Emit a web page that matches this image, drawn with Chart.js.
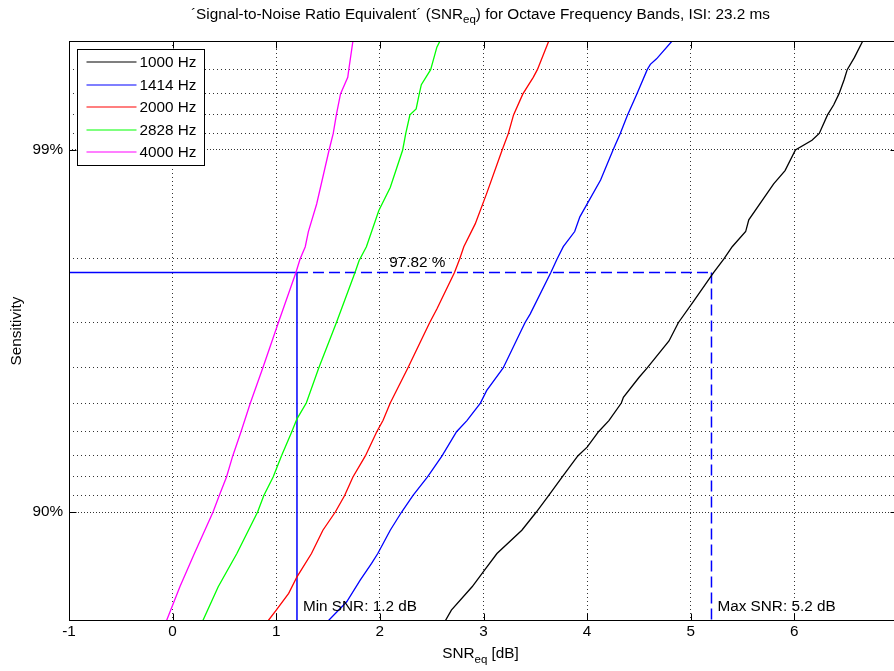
<!DOCTYPE html>
<html><head><meta charset="utf-8">
<script src="https://cdn.jsdelivr.net/npm/chart.js@4"></script>
<style>html,body{margin:0;padding:0;background:#fff;overflow:hidden}canvas{display:block}</style>
</head><body>
<canvas id="c" width="910" height="671"></canvas>
<script>
const FONT='"Liberation Sans", Arial, Helvetica, sans-serif';
const FS=15.3, FS_SUB=11.5;

// data: SNReq [dB] vs sensitivity [%]
const seriesNames=['1000 Hz','1414 Hz','2000 Hz','2828 Hz','4000 Hz'];
const seriesColors=['#000000','#0000ff','#ff0000','#00ff00','#ff00ff'];
const snr1000=[2.63,2.69,2.89,3.01,3.13,3.37,3.51,3.63,3.76,3.91,4.00,4.11,4.21,4.33,4.35,4.50,4.58,4.79,4.88,5.03,5.22,5.32,5.40,5.53,5.56,5.80,5.91,6.01,6.17,6.24,6.32,6.38,6.43,6.48,6.51,6.58,6.66];
const sens1000=[80.0,81.34,83.91,85.53,86.98,88.77,90.0,91.0,92.0,93.0,93.38,94.0,94.41,95.0,95.18,95.75,96.0,96.63,97.0,97.39,97.82,98.0,98.15,98.32,98.44,98.76,98.86,99.0,99.06,99.1,99.2,99.25,99.3,99.36,99.4,99.445,99.5];
const snr1414=[1.50,1.68,1.81,1.92,1.98,2.10,2.21,2.32,2.46,2.60,2.74,2.84,2.97,3.03,3.19,3.40,3.45,3.65,3.71,3.77,3.88,3.93,4.13,4.25,4.32,4.39,4.48,4.58,4.61,4.67,4.82];
const sens1414=[80.0,82.30,84.58,86.13,86.98,88.77,90.0,91.0,92.0,93.0,94.0,94.41,95.0,95.38,96.0,97.0,97.16,97.82,98.0,98.15,98.32,98.47,98.79,99.0,99.1,99.2,99.3,99.4,99.42,99.44,99.5];
const snr2000=[0.92,1.00,1.12,1.20,1.34,1.45,1.57,1.66,1.74,1.86,1.97,2.03,2.10,2.27,2.38,2.48,2.55,2.72,2.77,2.81,2.92,3.03,3.18,3.24,3.29,3.38,3.48,3.52,3.63];
const sens2000=[80.0,81.34,83.22,84.90,86.98,88.77,90.0,91.0,92.0,93.0,94.0,94.41,95.0,96.0,96.56,97.0,97.25,97.82,98.0,98.15,98.40,98.68,99.0,99.1,99.2,99.3,99.37,99.4,99.5];
const snr2828=[0.29,0.44,0.62,0.82,0.88,0.97,1.05,1.15,1.20,1.29,1.41,1.58,1.76,1.80,1.87,1.99,2.10,2.22,2.25,2.29,2.35,2.38,2.40,2.49,2.55,2.58];
const sens2828=[80.0,83.91,86.98,90.0,91.0,92.0,93.0,94.0,94.47,95.0,96.0,97.0,97.82,97.98,98.15,98.53,98.73,99.0,99.1,99.2,99.23,99.3,99.34,99.4,99.48,99.5];
const snr4000=[-0.06,0.07,0.21,0.39,0.45,0.52,0.58,0.66,0.75,0.87,1.02,1.19,1.23,1.28,1.31,1.39,1.51,1.55,1.58,1.62,1.69,1.70,1.74];
const sens4000=[80.0,83.91,86.98,90.0,91.0,92.0,93.0,94.0,95.0,96.0,97.0,97.82,98.0,98.15,98.32,98.59,99.0,99.1,99.2,99.3,99.37,99.4,99.5];
const snrSeries=[snr1000,snr1414,snr2000,snr2828,snr4000];
const sensSeries=[sens1000,sens1414,sens2000,sens2828,sens4000];

// axes
const xTicks=[-1,0,1,2,3,4,5,6,7];
const yGrid=[80,90,91,92,93,94,95,96,97,98,99,99.1,99.2,99.3,99.4,99.5];
const yMajor=[90,99];
const refSens=97.82, minSnr=1.2, maxSnr=5.2;

const toMiss=p=>1-p/100;   // y axis is log(1 - sensitivity), reversed

const datasets=snrSeries.map((xs,i)=>({
  label:seriesNames[i], data:xs.map((v,j)=>({x:v,y:toMiss(sensSeries[i][j])})),
  borderColor:seriesColors[i], borderWidth:1.3, pointRadius:0, tension:0, fill:false
}));
const refLine=(pts,dash)=>({data:pts.map(([a,b])=>({x:a,y:toMiss(b)})),borderColor:'#0000ff',borderWidth:1.5,borderDash:dash,pointRadius:0,fill:false});
datasets.push(
  refLine([[-1,refSens],[minSnr,refSens]],[]),
  refLine([[minSnr,refSens],[maxSnr,refSens]],[11,5]),
  refLine([[minSnr,refSens],[minSnr,80]],[]),
  refLine([[maxSnr,refSens],[maxSnr,80]],[11,5])
);

function subText(ctx,parts,cx,base){
  let w=0; parts.forEach(([t,s])=>{ctx.font=(s?FS_SUB:FS)+'px '+FONT; w+=ctx.measureText(t).width;});
  let x=cx-w/2; ctx.textAlign='left'; ctx.textBaseline='alphabetic';
  parts.forEach(([t,s])=>{ctx.font=(s?FS_SUB:FS)+'px '+FONT; ctx.fillText(t,x,s?base+4.5:base); x+=ctx.measureText(t).width;});
}

const decor={id:'decor',
  afterDatasetsDraw(chart){
    const {ctx,chartArea:a,scales:{x,y}}=chart;
    const L=Math.round(a.left)+.5,R=Math.round(a.right)-.5,T=Math.round(a.top)+.5,B=Math.round(a.bottom)-.5;
    ctx.save(); ctx.strokeStyle='#000'; ctx.lineWidth=1; ctx.setLineDash([]);
    ctx.strokeRect(L,T,R-L,B-T);
    ctx.beginPath();
    xTicks.forEach(v=>{const px=Math.round(x.getPixelForValue(v))+.5; ctx.moveTo(px,B);ctx.lineTo(px,B-7);ctx.moveTo(px,T);ctx.lineTo(px,T+7);});
    yMajor.forEach(p=>{const py=Math.round(y.getPixelForValue(toMiss(p)))+.5; ctx.moveTo(L,py);ctx.lineTo(L+7,py);ctx.moveTo(R,py);ctx.lineTo(R-7,py);});
    ctx.stroke();
    // legend box
    const lx=Math.round(a.left)+8.5, ly=Math.round(a.top)+8.5;
    ctx.fillStyle='#fff'; ctx.fillRect(lx,ly,127,116); ctx.strokeRect(lx,ly,127,116);
    ctx.font=FS+'px '+FONT; ctx.textAlign='left'; ctx.textBaseline='middle';
    seriesNames.forEach((n,i)=>{
      const yy=Math.round(ly+12.5+i*22.5);
      ctx.strokeStyle=seriesColors[i]; ctx.lineWidth=1.2;
      ctx.beginPath(); ctx.moveTo(lx+9,yy); ctx.lineTo(lx+59,yy); ctx.stroke();
      ctx.fillStyle='#000'; ctx.fillText(n,lx+62,yy+1);
    });
    // annotations
    ctx.fillStyle='#000'; ctx.textBaseline='alphabetic';
    ctx.fillText(refSens.toFixed(2)+' %',x.getPixelForValue(2.09),y.getPixelForValue(toMiss(refSens))-5.5);
    ctx.fillText('Min SNR: '+minSnr.toFixed(1)+' dB',x.getPixelForValue(minSnr)+6,a.bottom-10.5);
    ctx.fillText('Max SNR: '+maxSnr.toFixed(1)+' dB',x.getPixelForValue(maxSnr)+6,a.bottom-10.5);
    // title and axis labels
    const cx=(a.left+a.right)/2-3;
    subText(ctx,[['\u00B4Signal-to-Noise Ratio Equivalent\u00B4 (SNR',0],['eq',1],[') for Octave Frequency Bands, ISI: 23.2 ms',0]],cx,18.5);
    subText(ctx,[['SNR',0],['eq',1],[' [dB]',0]],cx,658);
    ctx.translate(17,(a.top+a.bottom)/2); ctx.rotate(-Math.PI/2);
    ctx.font=FS+'px '+FONT; ctx.textAlign='center'; ctx.textBaseline='middle';
    ctx.fillText('Sensitivity',0,0);
    ctx.restore();
  }
};

new Chart(document.getElementById('c'),{
  type:'line',
  data:{datasets},
  options:{
    responsive:false, animation:false, devicePixelRatio:1,
    layout:{padding:{top:41,right:12,bottom:0,left:0}},
    plugins:{legend:{display:false},tooltip:{enabled:false},title:{display:false}},
    scales:{
      x:{type:'linear',min:-1,max:7,
        afterBuildTicks:s=>{s.ticks=xTicks.map(v=>({value:v}));},
        afterFit:s=>{s.height=50;},
        ticks:{color:'#000',font:{family:FONT,size:FS},padding:2,autoSkip:false,maxRotation:0,
          callback:v=>v===7?'':String(v)},
        grid:{drawTicks:false,color:c=>(c.index===0||c.index===xTicks.length-1)?'rgba(0,0,0,0)':'rgba(0,0,0,0.8)',lineWidth:1},
        border:{display:false,dash:[1,3]}},
      y:{type:'logarithmic',reverse:true,min:toMiss(99.5),max:toMiss(80),
        afterBuildTicks:s=>{s.ticks=yGrid.map(p=>({value:toMiss(p)}));},
        afterFit:s=>{s.width=69;},
        ticks:{color:'#000',font:{family:FONT,size:FS},padding:6,autoSkip:false,
          callback:(v,i)=>yMajor.includes(yGrid[i])?yGrid[i]+'%':''},
        grid:{drawTicks:false,lineWidth:1,
          color:c=>(c.index===0||c.index===yGrid.length-1)?'rgba(0,0,0,0)':'rgba(0,0,0,0.8)'},
        border:{display:false,dash:c=>yMajor.includes(yGrid[c.index])?[1,2]:[1,3]}}
    }
  },
  plugins:[decor]
});
</script>
</body></html>
